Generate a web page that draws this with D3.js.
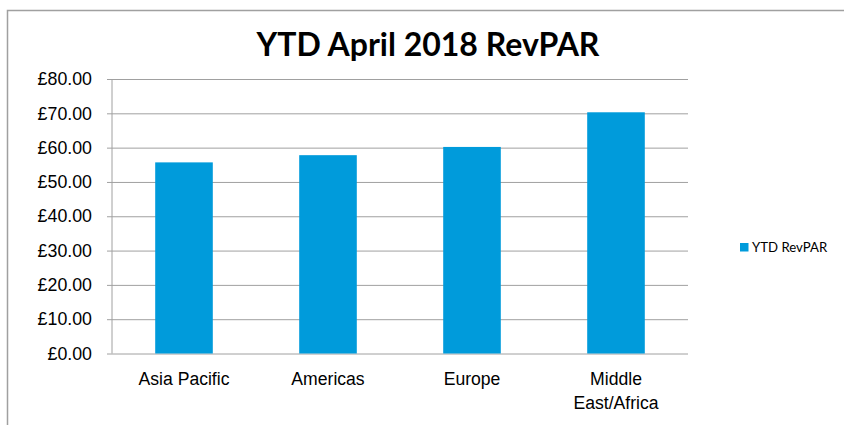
<!DOCTYPE html>
<html>
<head>
<meta charset="utf-8">
<script src="https://cdn.jsdelivr.net/npm/d3@7"></script>
<style>
  body { margin: 0; background: #fff; }
  svg { display: block; font-family: Lato, "Open Sans", sans-serif; }
</style>
</head>
<body>
<div id="chart"></div>
<script>
const regions = ['Asia Pacific', 'Americas', 'Europe', 'Middle East/Africa'];
const revpar = [55.7, 57.8, 60.2, 70.3];
const yTicks = [0, 10, 20, 30, 40, 50, 60, 70, 80];
const seriesName = 'YTD RevPAR';
const chartTitle = 'YTD April 2018 RevPAR';

const width = 844, height = 425;
const margin = { top: 79, right: 156, bottom: 71.5, left: 112 };
const barColor = '#009BDB';
const lineColor = '#A0A0A0';

const svg = d3.select('#chart')
  .append('svg')
  .attr('width', width)
  .attr('height', height);

// outer chart frame
svg.append('rect')
  .attr('x', 7.5)
  .attr('y', 10.5)
  .attr('width', 840)
  .attr('height', 420)
  .attr('fill', 'none')
  .attr('stroke', lineColor)
  .attr('stroke-width', 1.5);

let x = d3.scaleBand()
  .domain(regions)
  .range([margin.left, width - margin.right])
  .paddingInner(0.6)
  .paddingOuter(0.3);

let y = d3.scaleLinear()
  .domain([0, 80])
  .range([height - margin.bottom, margin.top]);

// gridlines + y axis
let yAxis = g => g
  .attr('transform', `translate(${margin.left},0)`)
  .call(d3.axisLeft(y)
    .tickValues(yTicks)
    .tickSize(5)
    .tickPadding(15)
    .tickFormat(d => '£' + d3.format('.2f')(d)))
  .call(g => g.select('.domain').attr('stroke', lineColor).attr('d', `M0,${y(80)}V${y(0)}`))
  .call(g => g.selectAll('.tick line').attr('stroke', lineColor))
  .call(g => g.selectAll('.tick').append('line')
    .attr('x2', width - margin.right - margin.left)
    .attr('stroke', lineColor))
  .call(g => g.selectAll('.tick text')
    .attr('fill', '#000')
    .style('font-size', '17.8px'));

svg.append('g').call(yAxis);

svg.append('g')
  .selectAll('rect')
  .data(revpar)
  .join('rect')
  .attr('x', (d, i) => x(regions[i]))
  .attr('y', d => y(d))
  .attr('width', x.bandwidth())
  .attr('height', d => y(0) - y(d))
  .attr('fill', barColor);

// x labels, wrapped like the original
let xAxis = g => g
  .attr('transform', `translate(0,${y(0)})`)
  .call(d3.axisBottom(x).tickSize(0).tickPadding(19))
  .call(g => g.select('.domain').remove())
  .call(g => g.selectAll('.tick text')
    .attr('fill', '#000')
    .style('font-size', '17.6px')
    .each(function (d) {
      if (d === 'Middle East/Africa') {
        const t = d3.select(this).text(null);
        t.append('tspan').attr('x', 0).attr('dy', '0.71em').text('Middle');
        t.append('tspan').attr('x', 0).attr('dy', '1.38em').text('East/Africa');
      }
    }));

svg.append('g').call(xAxis);

svg.append('text')
  .attr('x', 428)
  .attr('y', 56)
  .attr('text-anchor', 'middle')
  .style('font-size', '32px')
  .style('font-weight', 'bold')
  .text(chartTitle);

// legend
const legend = svg.append('g').attr('transform', 'translate(740,243)');
legend.append('rect')
  .attr('width', 8.5)
  .attr('height', 8.5)
  .attr('fill', barColor);
legend.append('text')
  .attr('x', 12)
  .attr('y', 9)
  .style('font-size', '13.2px')
  .text(seriesName);
</script>
</body>
</html>
